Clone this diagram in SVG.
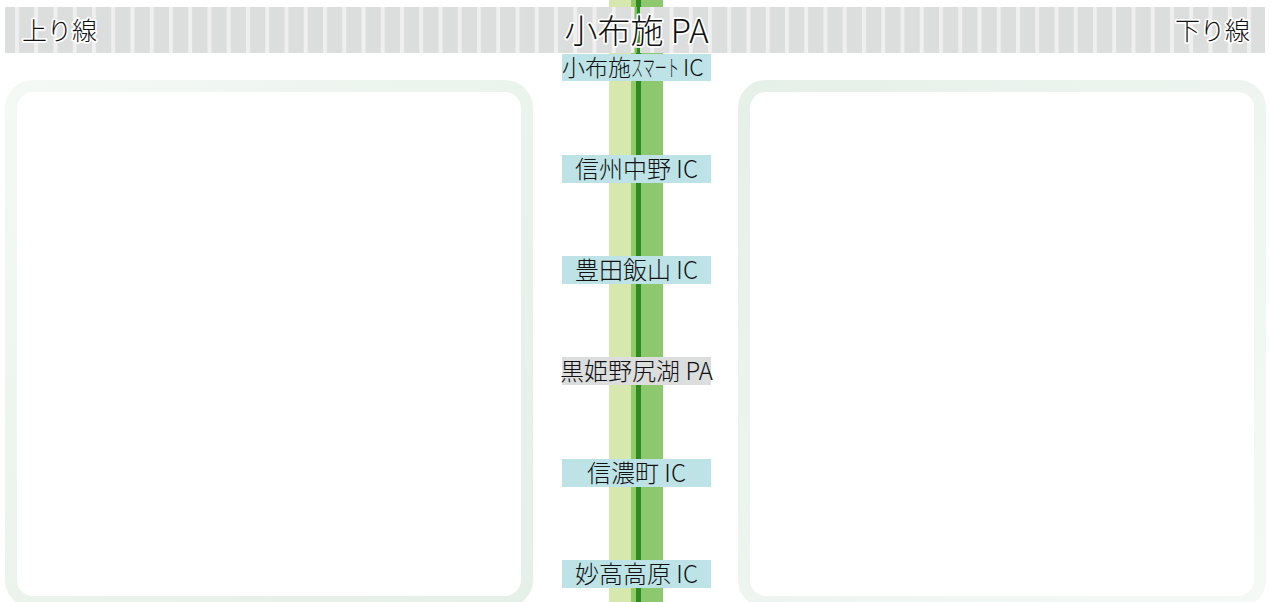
<svg xmlns="http://www.w3.org/2000/svg" width="1270" height="602" viewBox="0 0 1270 602">
<style>
.jp{font-family:"Noto Sans CJK JP","Noto Sans",sans-serif;fill:#111;font-weight:300}
.halo{stroke:#fff;stroke-width:3.5;paint-order:stroke;stroke-linejoin:round}
.lbl{font-size:24px;text-anchor:middle}
.ic{fill:#bde3e6}
.pa{fill:#dcdddd}
.panel{fill:#fff;stroke-width:12}
</style>
<defs>
<pattern id="stripes" patternUnits="userSpaceOnUse" x="15" y="0" width="19.25" height="60">
<rect x="0" y="0" width="19.25" height="60" fill="#dcdddd"/>
<rect x="0" y="0" width="4" height="60" fill="#efefef"/>
</pattern>
<linearGradient id="gl" gradientUnits="userSpaceOnUse" x1="0" y1="80" x2="533" y2="602">
<stop offset="0" stop-color="#f5f9f6"/>
<stop offset="0.5" stop-color="#eaf3ec"/>
<stop offset="1" stop-color="#e5f0e8"/>
</linearGradient>
<linearGradient id="gr" gradientUnits="userSpaceOnUse" x1="738" y1="80" x2="1266" y2="602">
<stop offset="0" stop-color="#e5f0e8"/>
<stop offset="0.5" stop-color="#eef5f0"/>
<stop offset="1" stop-color="#f5f9f6"/>
</linearGradient>
</defs>
<rect width="1270" height="602" fill="#fff"/>
<g id="panel-up"><rect class="panel" x="11" y="86" width="516" height="516" rx="22" stroke="url(#gl)"/></g>
<g id="panel-down"><rect class="panel" x="744" y="86" width="516" height="516" rx="22" stroke="url(#gr)"/></g>
<g id="connectors">
<rect x="609" y="0" width="22" height="602" fill="#d7e8af"/>
<rect x="631" y="0" width="5" height="602" fill="#93cb68"/>
<rect x="636" y="0" width="5" height="602" fill="#2e8a23"/>
<rect x="641" y="0" width="22" height="602" fill="#8dc86f"/>
</g>
<g id="header">
<rect x="5" y="7" width="1260" height="46" fill="url(#stripes)"/>
<rect x="634.5" y="7" width="2.5" height="46" fill="#7fc25a"/>
<rect x="637" y="7" width="3" height="46" fill="#2e8a23"/>
<text class="jp halo" x="22" y="40" font-size="25">上り線</text>
<text class="jp halo" x="1250" y="40" font-size="25" text-anchor="end">下り線</text>
<text class="jp halo" x="636.5" y="43" font-size="33" text-anchor="middle">小布施 PA</text>
</g>
<g id="n-obuse-smart">
<rect class="ic" x="562" y="54" width="149" height="27"/>
<text class="jp" x="562" y="76" font-size="23">小布施<tspan textLength="48" lengthAdjust="spacingAndGlyphs">スマート</tspan><tspan x="683">IC</tspan></text>
</g>
<g id="n-shinshu-nakano">
<rect class="ic" x="562" y="155" width="149" height="28"/>
<text class="jp lbl" x="636.5" y="178">信州中野 IC</text>
</g>
<g id="n-toyota-iiyama">
<rect class="ic" x="562" y="256" width="149" height="28"/>
<text class="jp lbl" x="636.5" y="279">豊田飯山 IC</text>
</g>
<g id="n-kurohime">
<rect class="pa" x="562" y="357" width="149" height="28"/>
<text class="jp lbl" x="636.5" y="380">黒姫野尻湖 PA</text>
</g>
<g id="n-shinanomachi">
<rect class="ic" x="562" y="459" width="149" height="28"/>
<text class="jp lbl" x="636.5" y="482">信濃町 IC</text>
</g>
<g id="n-myoko">
<rect class="ic" x="562" y="560" width="149" height="28"/>
<text class="jp lbl" x="636.5" y="583">妙高高原 IC</text>
</g>
</svg>
